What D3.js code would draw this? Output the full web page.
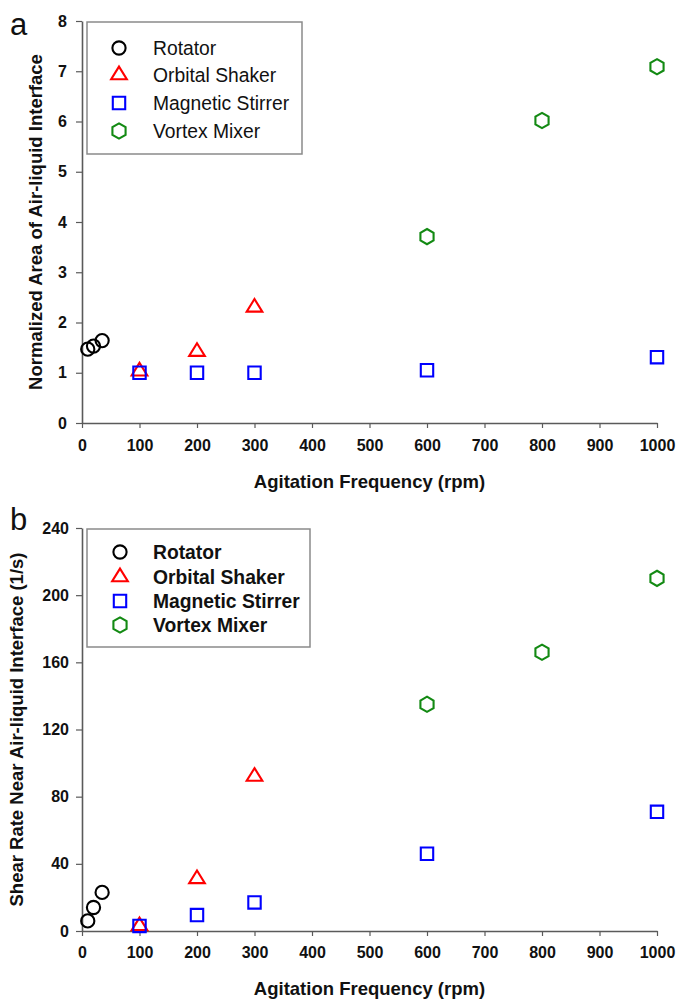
<!DOCTYPE html>
<html>
<head>
<meta charset="utf-8">
<script src="https://cdn.jsdelivr.net/npm/d3@7"></script>
<style>
  html, body { margin: 0; padding: 0; background: #fff; }
  svg { display: block; font-family: "Liberation Sans", Arial, sans-serif; }
</style>
</head>
<body>
<svg id="chart" width="678" height="1000"></svg>
<script>
// Agitation frequency (rpm) for each device
const rotatorX  = [10, 20, 35];
const orbitalX  = [100, 200, 300];
const magneticX = [100, 200, 300, 600, 1000];
const vortexX   = [600, 800, 1000];

// Panel a: normalized area of the air-liquid interface
const rotatorArea  = [1.47, 1.53, 1.64];
const orbitalArea  = [1.03, 1.42, 2.30];
const magneticArea = [1.00, 1.00, 1.00, 1.05, 1.31];
const vortexArea   = [3.71, 6.02, 7.09];

// Panel b: shear rate near the air-liquid interface (1/s)
const rotatorShear  = [6, 14, 23];
const orbitalShear  = [3, 31, 92];
const magneticShear = [3, 9.5, 17, 46, 71];
const vortexShear   = [135, 166, 210];

const seriesNames = ["Rotator", "Orbital Shaker", "Magnetic Stirrer", "Vortex Mixer"];
const xTicks = [0, 100, 200, 300, 400, 500, 600, 700, 800, 900, 1000];
const yTicksA = [0, 1, 2, 3, 4, 5, 6, 7, 8];
const yTicksB = [0, 40, 80, 120, 160, 200, 240];

const colors = ["#000000", "#ff0000", "#0000ff", "#138a13"];

// Marker shapes (size = nominal radius squared)
const circleSym = { draw(ctx, s) { const r = Math.sqrt(s); ctx.moveTo(r, 0); ctx.arc(0, 0, r, 0, 2 * Math.PI); } };
const triSym = { draw(ctx, s) {
  const r = Math.sqrt(s), w = r * 1.15, h = r * 1.85;
  ctx.moveTo(0, -h * 2 / 3); ctx.lineTo(w, h / 3); ctx.lineTo(-w, h / 3); ctx.closePath(); } };
const squareSym = { draw(ctx, s) { const r = Math.sqrt(s); ctx.rect(-r, -r, 2 * r, 2 * r); } };
const hexSym = { draw(ctx, s) {
  const r = Math.sqrt(s);
  for (let i = 0; i < 6; i++) {
    const a = -Math.PI / 2 + i * Math.PI / 3;
    const px = r * Math.cos(a), py = r * Math.sin(a);
    if (i === 0) ctx.moveTo(px, py); else ctx.lineTo(px, py);
  }
  ctx.closePath(); } };
const symbols = [circleSym, triSym, squareSym, hexSym];
const symSizes = [6.6 * 6.6, 6.8 * 6.8, 6.2 * 6.2, 7.6 * 7.6];
const symStroke = [2.1, 2.1, 2.1, 2.1];

const svg = d3.select("#chart");
const axisColor = "#5a5a5a";
const fontStack = "Liberation Sans, Arial, sans-serif";

function panel(cfg) {
  const x = d3.scaleLinear().domain([0, 1000]).range([82, 657]);
  const y = d3.scaleLinear().domain(cfg.yDomain).range(cfg.yRange);
  const g = svg.append("g");

  // x axis
  const gx = g.append("g")
    .attr("transform", `translate(0,${cfg.yRange[0]})`)
    .call(d3.axisBottom(x).tickValues(xTicks).tickFormat(d3.format("d"))
      .tickSize(5).tickPadding(cfg.xPad).tickSizeOuter(0));
  // y axis
  const gy = g.append("g")
    .attr("transform", `translate(82,0)`)
    .call(d3.axisLeft(y).tickValues(cfg.yTicks).tickFormat(d3.format("d"))
      .tickSize(6).tickPadding(cfg.yPad).tickSizeOuter(0));
  [gx, gy].forEach(a => {
    a.attr("font-family", fontStack);
    a.select(".domain").attr("stroke", axisColor).attr("stroke-width", 1.6);
    a.selectAll(".tick line").attr("stroke", axisColor).attr("stroke-width", 1.2);
    a.selectAll(".tick text").attr("fill", "#111").attr("font-size", cfg.tickFont)
      .attr("font-weight", "bold");
  });

  // axis titles
  g.append("text")
    .attr("x", 369.5).attr("y", cfg.xTitleY)
    .attr("text-anchor", "middle").attr("font-size", 18.5).attr("font-weight", "bold").attr("fill", "#111")
    .text("Agitation Frequency (rpm)");
  g.append("text")
    .attr("transform", `translate(${cfg.yTitleX},${(cfg.yRange[0] + cfg.yRange[1]) / 2}) rotate(-90)`)
    .attr("text-anchor", "middle").attr("font-size", 18.5).attr("font-weight", "bold").attr("fill", "#111")
    .text(cfg.yTitle);

  // panel letter
  g.append("text").attr("x", 10).attr("y", cfg.letterY)
    .attr("font-size", 31).attr("fill", "#111").text(cfg.letter);

  // data markers
  cfg.series.forEach((s, i) => {
    const pts = s.xs.map((v, j) => ({ x: v, y: s.ys[j] }));
    g.append("g").selectAll("path").data(pts).join("path")
      .attr("transform", d => `translate(${x(d.x)},${y(d.y)})`)
      .attr("d", d3.symbol().type(symbols[i]).size(symSizes[i]))
      .attr("fill", "none").attr("stroke", colors[i]).attr("stroke-width", symStroke[i]);
  });

  // legend
  const L = cfg.legend;
  const lg = g.append("g");
  lg.append("rect").attr("x", L.x0).attr("y", L.y0).attr("width", L.x1 - L.x0).attr("height", L.y1 - L.y0)
    .attr("fill", "#fff").attr("stroke", "#8a8a8a").attr("stroke-width", 1.5);
  seriesNames.forEach((name, i) => {
    const ry = L.rows[i];
    lg.append("path").attr("transform", `translate(${L.symX},${ry})`)
      .attr("d", d3.symbol().type(symbols[i]).size(symSizes[i]))
      .attr("fill", "none").attr("stroke", colors[i]).attr("stroke-width", symStroke[i]);
    lg.append("text").attr("x", L.textX).attr("y", ry).attr("dy", "0.36em")
      .attr("font-size", 19.3).attr("font-weight", L.weight).attr("fill", "#111").text(name);
  });
}

panel({
  letter: "a", letterY: 35,
  yDomain: [0, 8], yRange: [423, 21], yTicks: yTicksA,
  xPad: 12, yPad: 9, tickFont: 16,
  xTitleY: 488, yTitleX: 42,
  yTitle: "Normalized Area of Air-liquid Interface",
  series: [
    { xs: rotatorX, ys: rotatorArea },
    { xs: orbitalX, ys: orbitalArea },
    { xs: magneticX, ys: magneticArea },
    { xs: vortexX, ys: vortexArea }
  ],
  legend: { x0: 87, y0: 22, x1: 302, y1: 154, rows: [48, 75, 103, 131], symX: 119, textX: 153, weight: "normal" }
});

panel({
  letter: "b", letterY: 530,
  yDomain: [0, 240], yRange: [931, 528], yTicks: yTicksB,
  xPad: 11, yPad: 7, tickFont: 16,
  xTitleY: 995, yTitleX: 23,
  yTitle: "Shear Rate Near Air-liquid Interface (1/s)",
  series: [
    { xs: rotatorX, ys: rotatorShear },
    { xs: orbitalX, ys: orbitalShear },
    { xs: magneticX, ys: magneticShear },
    { xs: vortexX, ys: vortexShear }
  ],
  legend: { x0: 87, y0: 529, x1: 310, y1: 647, rows: [552, 577, 601, 625], symX: 120, textX: 153, weight: "bold" }
});
</script>
</body>
</html>
